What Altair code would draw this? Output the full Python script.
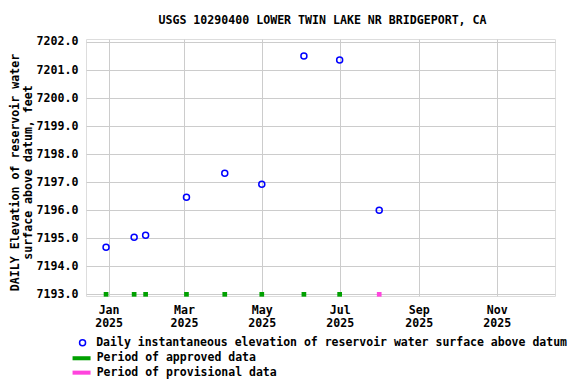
import altair as alt
import pandas as pd

# ---- data ----
dates = ["2024-12-30", "2025-01-21", "2025-01-30", "2025-03-03", "2025-04-02",
         "2025-05-01", "2025-06-03", "2025-07-01", "2025-08-01"]
elevation = [7194.68, 7195.04, 7195.11, 7196.46, 7197.32,
             7196.93, 7201.50, 7201.36, 7196.00]
status = ["Period of approved data", "Period of approved data", "Period of approved data",
          "Period of approved data", "Period of approved data", "Period of approved data",
          "Period of approved data", "Period of approved data", "Period of provisional data"]
marker_level = [7193.0, 7193.0, 7193.0, 7193.0, 7193.0, 7193.0, 7193.0, 7193.0, 7193.0]
series_name = "Daily instantaneous elevation of reservoir water surface above datum"
status_names = ["Period of approved data", "Period of provisional data"]
status_colors = ["#00a000", "#ff44dd"]
tick_months = [1, 3, 5, 7, 9, 11]
y_ticks = [7193, 7194, 7195, 7196, 7197, 7198, 7199, 7200, 7201, 7202]

df = pd.DataFrame({
    "date": dates,
    "elev": elevation,
    "status": status,
    "level": marker_level,
    "series": [series_name] * len(dates),
})

FONT = "DejaVu Sans Mono"
FS = 11.6
LFS = 11.5

x_scale = alt.Scale(
    type="utc",
    domain=[alt.DateTime(year=2024, month=12, date=14, hours=7, utc=True),
            alt.DateTime(year=2025, month=12, date=16, hours=17, utc=True)],
)
y_scale = alt.Scale(domain=[7192.94, 7202.107], nice=False, zero=False)

x_axis = alt.Axis(
    values=[alt.DateTime(year=2025, month=m, date=1, utc=True) for m in tick_months],
    labelExpr="[utcFormat(datum.value, '%b'), utcFormat(datum.value, '%Y')]",
    labelLineHeight=13.3,
    labelPadding=8,
    tickSize=0, ticks=False, domain=False,
    grid=True, gridColor="#cccccc", gridWidth=1,
    labelFont=FONT, labelFontSize=FS, labelFontWeight="bold", labelColor="black",
    labelAlign="center",
    title=None,
)
y_axis = alt.Axis(
    values=y_ticks, format=".1f",
    tickSize=0, ticks=False, domain=False, labelPadding=8,
    grid=True, gridColor="#cccccc", gridWidth=1,
    labelFont=FONT, labelFontSize=FS, labelFontWeight="bold", labelColor="black",
    title=["DAILY Elevation of reservoir water", "surface above datum, feet"],
    titleFont=FONT, titleFontSize=FS, titleFontWeight="bold", titleColor="black",
    titleLineHeight=13, titleX=-65.5, titleY=133, titleAngle=270,
    titleBaseline="bottom", titleAlign="center",
)

points = alt.Chart(df).mark_point(filled=False, size=36, strokeWidth=1.5, opacity=1).encode(
    x=alt.X("date:T", scale=x_scale, axis=x_axis),
    y=alt.Y("elev:Q", scale=y_scale, axis=y_axis),
    stroke=alt.Stroke("series:N",
                      scale=alt.Scale(domain=[series_name], range=["#0000ff"]),
                      legend=alt.Legend(title=None, orient="none", legendX=-9.2, legendY=298,
                                        padding=0, symbolSize=36, symbolStrokeWidth=1.5,
                                        labelOffset=7.9, labelLimit=0,
                                        labelFont=FONT, labelFontSize=LFS,
                                        labelFontWeight="bold", labelColor="black")),
)

markers = alt.Chart(df).mark_square(size=22, opacity=1).encode(
    x=alt.X("date:T", scale=x_scale, axis=x_axis),
    y=alt.Y("level:Q", scale=y_scale, axis=y_axis),
    fill=alt.Fill("status:N",
                  scale=alt.Scale(domain=status_names, range=status_colors),
                  legend=alt.Legend(title=None, orient="none", legendX=-10.2, legendY=313.5,
                                    padding=0, symbolType="M-2,-0.45H2V0.45H-2Z",
                                    symbolSize=81, symbolStrokeWidth=0,
                                    rowPadding=1.4, labelOffset=9.4, labelLimit=0,
                                    labelFont=FONT, labelFontSize=LFS,
                                    labelFontWeight="bold", labelColor="black")),
)

chart = alt.layer(markers, points).properties(
    width=469, height=257,
    title=alt.TitleParams("USGS 10290400 LOWER TWIN LAKE NR BRIDGEPORT, CA",
                          font=FONT, fontSize=FS, fontWeight="bold", color="black",
                          anchor="middle", offset=9, dx=2),
    autosize=alt.AutoSizeParams(type="none"),
    padding={"left": 78, "top": 31, "right": 13, "bottom": 88},
).configure_view(stroke="black", strokeWidth=1.3).configure(background="white")

chart.save("out.html", embed_options={"renderer": "svg", "actions": False})
